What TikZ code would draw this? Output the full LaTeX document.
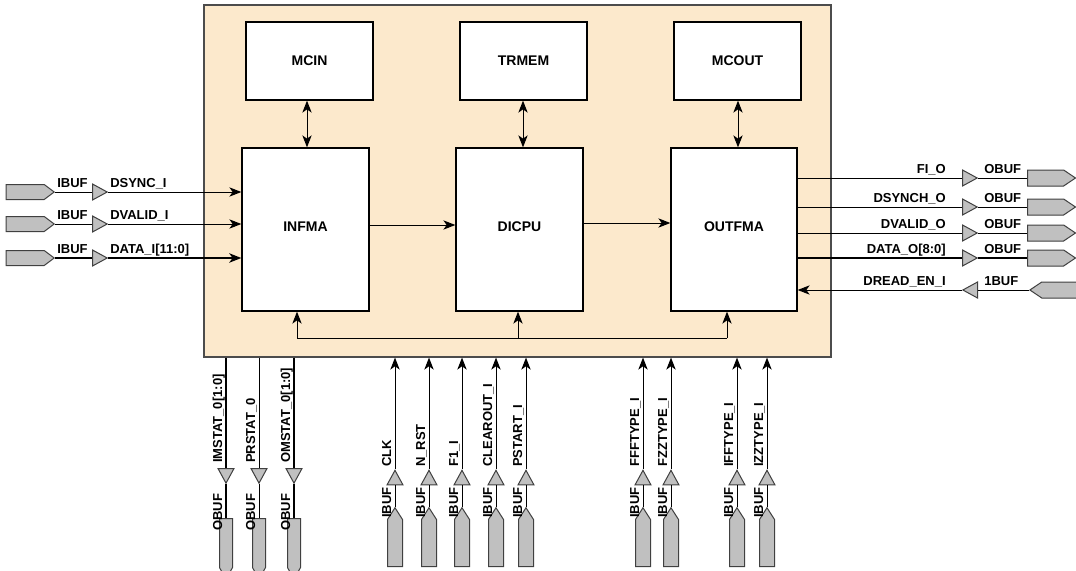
\documentclass[tikz,border=0pt]{standalone}
\usepackage{fontspec}
\setmainfont{Liberation Sans}
\usetikzlibrary{arrows.meta,shapes.geometric,shapes.symbols}

\definecolor{chipfill}{RGB}{252,233,204}
\definecolor{padfill}{RGB}{192,192,192}

\tikzset{
  chip/.style={draw=black!70, fill=chipfill, line width=0.9pt, minimum width=470.25pt, minimum height=264pt, inner sep=0},
  blk/.style={draw, fill=white, line width=1pt, minimum width=95.25pt, inner sep=0, font=\bfseries\fontsize{10.5}{12}\selectfont},
  lbl/.style={inner sep=0, font=\bfseries\fontsize{9.75}{11}\selectfont},
  pad/.style={shape=signal, signal from=nowhere, draw=black!75, fill=padfill, line width=0.75pt, inner sep=0},
  buf/.style={isosceles triangle, isosceles triangle stretches, draw=black!75, fill=padfill, line width=0.75pt, inner sep=0, minimum width=12pt, minimum height=11pt},
  wire/.style={line width=0.75pt},
  bus/.style={line width=2pt},
  arr/.style={-{Stealth[length=9pt,width=7pt,inset=2.5pt]}},
  darr/.style={{Stealth[length=9pt,width=7pt,inset=2.5pt]}-{Stealth[length=9pt,width=7pt,inset=2.5pt]}},
}

\begin{document}
\begin{tikzpicture}[x=0.75pt,y=-0.75pt]
    \useasboundingbox (0,0) rectangle (1076,571);
    % FPGA
    \node[chip] (chip) at (517.5,181) {};
    % blocks
    \node[blk, minimum height=58.5pt] (mcin) at (309.5,61) {MCIN};
    \node[blk, minimum height=58.5pt] (trmem) at (523.5,61) {TRMEM};
    \node[blk, minimum height=58.5pt] (mcout) at (737.5,61) {MCOUT};
    \node[blk, minimum height=122.25pt, text depth=4pt] (infma) at (305.5,229.5) {INFMA};
    \node[blk, minimum height=122.25pt, text depth=4pt] (dicpu) at (519.5,229.5) {DICPU};
    \node[blk, minimum height=122.25pt, minimum width=94.5pt, text depth=4pt] (outfma) at (734,229.5) {OUTFMA};
    \foreach \a/\b/\x in {mcin/infma/307, trmem/dicpu/523, mcout/outfma/738}
        \draw[wire, darr] (\x,0 |- \a.south) -- (\x,0 |- \b.north);
    \draw[wire, arr] (infma.east |- 0,225) -- (dicpu.west |- 0,225);
    \draw[wire, arr] (dicpu.east |- 0,223) -- (outfma.west |- 0,223);
    % bus
    \coordinate (busl) at (297,338);
    \coordinate (busm) at (518,338);
    \coordinate (busr) at (727,338);
    \draw[wire] (busl) -- (busr);
    \draw[wire, arr] (busl) -- (busl |- infma.south);
    \draw[wire, arr] (busm) -- (busm |- dicpu.south);
    \draw[wire, arr] (busr) -- (busr |- outfma.south);
    % left inputs
    \foreach \y/\name/\txt/\w in {192/dsync/DSYNC\_I/wire, 224/dvalid/DVALID\_I/wire, 258/data/DATA\_I[11:0]/bus} {
        \node[pad, signal to=east, minimum width=36pt, minimum height=11.25pt, signal pointer angle=74, anchor=east] (\name pad) at (55,\y) {};
        \node[buf, anchor=lower side] (\name buf) at (92,\y) {};
        \node[lbl, anchor=base west] (\name ib) at (57,\y-5) {IBUF};
        \node[lbl, anchor=base west] (\name lbl) at (110,\y-5) {\txt};
        \draw[\w] (\name pad.east) -- (\name buf.lower side);
        \draw[\w, arr] (\name buf.apex) -- (\name buf.apex -| infma.west);
    }
    % right outputs
    \foreach \y/\name/\txt/\w in {178/fio/FI\_O/wire, 207/dsynch/DSYNCH\_O/wire, 233/dvalo/DVALID\_O/wire, 258/datao/DATA\_O[8:0]/bus} {
        \node[buf, anchor=lower side] (\name buf) at (962,\y) {};
        \node[pad, signal to=east, minimum width=36pt, minimum height=12pt, signal pointer angle=68, anchor=west] (\name pad) at (1027,\y) {};
        \node[lbl, anchor=base east] (\name lbl) at (946,\y-4.5) {\txt};
        \node[lbl, anchor=base west] (\name ob) at (984,\y-5) {OBUF};
        \draw[\w] (\name buf.lower side -| outfma.east) -- (\name buf.lower side);
        \draw[\w] (\name buf.apex) -- (\name pad.west);
    }
    \node[buf, shape border rotate=180, anchor=lower side] (dreadbuf) at (978,290) {};
    \node[pad, signal to=west, minimum width=36pt, minimum height=12pt, signal pointer angle=68, anchor=west] (dreadpad) at (1029,290) {};
    \node[lbl, anchor=base east] (dreadlbl) at (946,285.5) {DREAD\_EN\_I};
    \node[lbl, anchor=base west] (dreadib) at (984,285) {1BUF};
    \draw[wire] (dreadpad.west) -- (dreadbuf.lower side);
    \draw[wire, arr] (dreadbuf.apex) -- (dreadbuf.apex -| outfma.east);
    % bottom outputs
    \foreach \x/\name/\txt/\w in {226/imstat/IMSTAT\_0[1:0]/bus, 259/prstat/PRSTAT\_0/wire, 294/omstat/OMSTAT\_0[1:0]/bus} {
        \node[buf, shape border rotate=270, anchor=lower side] (\name buf) at (\x,468) {};
        \node[pad, signal to=south, minimum width=9.75pt, minimum height=36.75pt, signal pointer angle=57, anchor=north] (\name pad) at (\x,518) {};
        \node[lbl, rotate=90, anchor=base west] (\name lbl) at (\x-4,463) {\txt};
        \node[lbl, rotate=90, anchor=base west] (\name ob) at (\x-4,531) {OBUF};
        \draw[\w] (\name buf.lower side |- chip.south) -- (\name buf.lower side);
        \draw[\w] (\name buf.apex) -- (\name pad.north);
    }
    % bottom inputs
    \foreach \x/\name/\txt in {395/clk/CLK, 429/nrst/N\_RST, 462/fone/F1\_I, 496/clrout/CLEAROUT\_I, 526/pstart/PSTART\_I, 643/ffft/FFFTYPE\_I, 671/fzzt/FZZTYPE\_I, 737/ifft/IFFTYPE\_I, 767/izzt/IZZTYPE\_I} {
        \node[buf, shape border rotate=90, anchor=apex] (\name buf) at (\x,469) {};
        \node[pad, signal to=north, minimum width=11.25pt, minimum height=35.25pt, signal pointer angle=65, anchor=south] (\name pad) at (\x,567) {};
        \node[lbl, rotate=90, anchor=base west] (\name lbl) at (\x-4,467) {\txt};
        \node[lbl, rotate=90, anchor=base west] (\name ib) at (\x-4,518) {IBUF};
        \draw[wire] (\name pad.north) -- (\name buf.lower side);
        \draw[wire, arr] (\name buf.apex) -- (\name buf.apex |- chip.south);
    }
\end{tikzpicture}
\end{document}
